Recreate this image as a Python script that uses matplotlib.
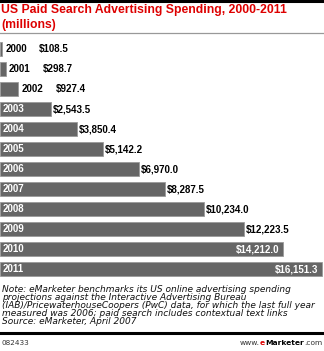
import matplotlib
matplotlib.use('Agg')
import matplotlib.pyplot as plt
from matplotlib.lines import Line2D

# US paid search ad spending, $ millions
years = ['2000', '2001', '2002', '2003', '2004', '2005',
         '2006', '2007', '2008', '2009', '2010', '2011']
spend = [108.5, 298.7, 927.4, 2543.5, 3850.4, 5142.2,
         6970.0, 8287.5, 10234.0, 12223.5, 14212.0, 16151.3]

title_lines = ['US Paid Search Advertising Spending, 2000-2011', '(millions)']
note_lines = ['Note: eMarketer benchmarks its US online advertising spending',
              'projections against the Interactive Advertising Bureau',
              '(IAB)/PricewaterhouseCoopers (PwC) data, for which the last full year',
              'measured was 2006; paid search includes contextual text links',
              'Source: eMarketer, April 2007']
chart_id = '082433'

W, H = 324, 351
RED = '#dd0000'
BAR = '#666666'
FONT = 'Liberation Sans'
SMALL = 'DejaVu Sans'

fig = plt.figure(figsize=(W / 100, H / 100), dpi=100)

def fy(px):
    # pixel row from top -> figure fraction
    return 1 - px / H

def fx(px):
    return px / W

# black rule on top, grey rule under the title
fig.add_artist(Line2D([0, 1], [fy(1), fy(1)], color='black', lw=2.2))
fig.add_artist(Line2D([0, 1], [fy(33), fy(33)], color='#999999', lw=0.9))

for i, line in enumerate(title_lines):
    fig.text(fx(1), fy(10 + 15 * i), line, color=RED, fontsize=8.8,
             fontweight='bold', family=FONT, va='center', ha='left')

# bar area: 12 slots of 20 px starting at row 39
ax = fig.add_axes([0, fy(279), 1, (279 - 39) / H])
ypos = list(range(len(years)))
ax.barh(ypos, spend, height=0.72, color=BAR, edgecolor='#9a9a9a', linewidth=0.6)
ax.set_ylim(len(years) - 0.5, -0.5)
ax.set_xlim(0, spend[-1] * W / 322)
ax.axis('off')

lab = dict(fontsize=7, fontweight='bold', family=FONT, va='center',
           textcoords='offset pixels')
for i, (yr, v) in enumerate(zip(years, spend)):
    val = '${:,.1f}'.format(v)
    if v < 1000:
        # tiny bars: year and value both outside
        ax.annotate(yr, (v, i), xytext=(3, 0), color='black', ha='left', **lab)
        ax.annotate(val, (v, i), xytext=(37, 0), color='black', ha='left', **lab)
    else:
        ax.annotate(yr, (0, i), xytext=(3, 0), color='white', ha='left', **lab)
        if v > 13000:
            ax.annotate(val, (v, i), xytext=(-4, 0), color='white', ha='right', **lab)
        else:
            ax.annotate(val, (v, i), xytext=(2, 0), color='black', ha='left', **lab)

for i, line in enumerate(note_lines):
    fig.text(fx(2), fy(289 + 8.2 * i), line, fontsize=6.5, style='oblique',
             family=SMALL, va='center', ha='left', color='#111111')

fig.add_artist(Line2D([0, 1], [fy(333), fy(333)], color='black', lw=2.2))

fig.text(fx(1), fy(343), chart_id, fontsize=5.2, family=SMALL, color='#333333',
         va='center', ha='left')

# www.eMarketer.com, built right to left
FS = 5.4
t4 = fig.text(fx(322), fy(343), '.com', fontsize=FS, family=SMALL,
              color='#333333', va='center', ha='right')
t3 = fig.text(0, 0, 'Marketer', fontsize=FS, family=SMALL, fontweight='bold',
              color='black', va='bottom', ha='right')
t2 = fig.text(0, 0, 'e', fontsize=FS, family=SMALL, fontweight='bold',
              color=RED, va='bottom', ha='right')
t1 = fig.text(0, 0, 'www.', fontsize=FS, family=SMALL,
              color='#333333', va='bottom', ha='right')
fig.canvas.draw()
r = fig.canvas.get_renderer()
prev = t4
for t in (t3, t2, t1):
    bb = prev.get_window_extent(r)
    t.set_position((bb.x0 / fig.bbox.width, bb.y0 / fig.bbox.height))
    prev = t
    fig.canvas.draw()

fig.savefig('out.png', dpi=100)
